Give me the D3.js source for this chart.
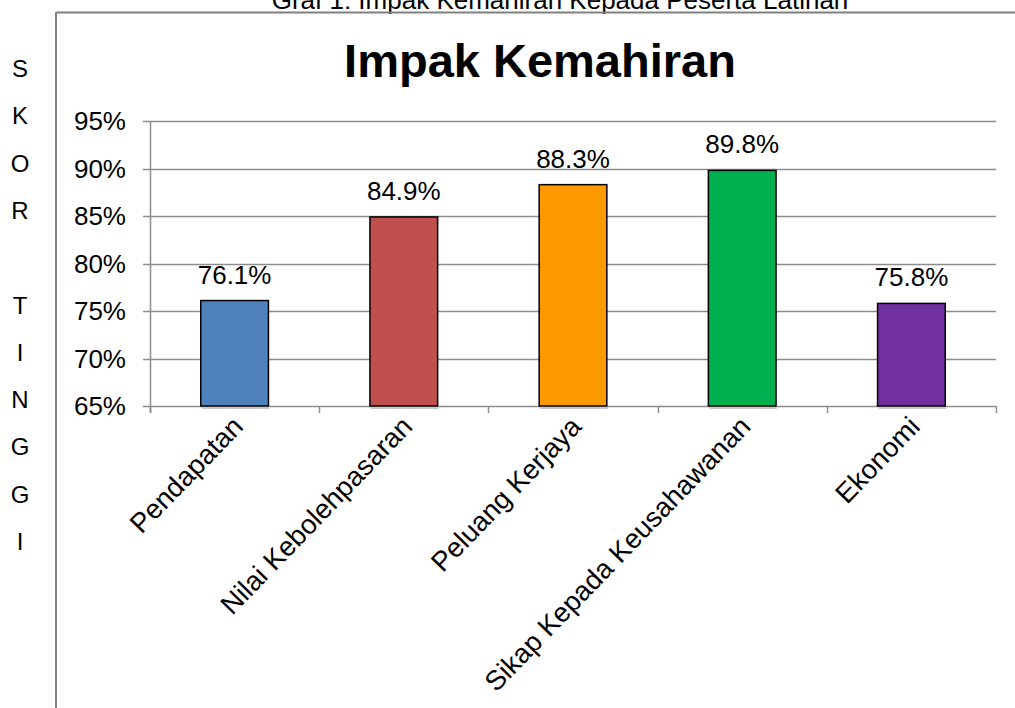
<!DOCTYPE html>
<html>
<head>
<meta charset="utf-8">
<script src="https://cdn.jsdelivr.net/npm/d3@7"></script>
<style>
  body { margin: 0; background: white; }
  text { font-family: "Liberation Sans", Arial, sans-serif; fill: black; }
</style>
</head>
<body>
<div id="canvas"></div>
<script>
// data
const categories = ["Pendapatan", "Nilai Kebolehpasaran", "Peluang Kerjaya", "Sikap Kepada Keusahawanan", "Ekonomi"];
const values = [76.1, 84.9, 88.3, 89.8, 75.8];
const barColours = ["#4F81BD", "#C0504D", "#FF9900", "#00B050", "#7030A0"];
const yTicks = [65, 70, 75, 80, 85, 90, 95];
const sideLetters = ["S", "K", "O", "R", "", "T", "I", "N", "G", "G", "I"];
const pageTitle = "Graf 1: Impak Kemahiran Kepada Peserta Latihan";
const chartTitle = "Impak Kemahiran";

const W = 1015, H = 708;
const plot = {left: 150, right: 996, top: 121, bottom: 406};

const svg = d3.select("#canvas")
    .append("svg")
    .attr("width", W)
    .attr("height", H);

// page title (cut at the top, as in the scan)
svg.append("text")
    .attr("x", 560)
    .attr("y", 9)
    .attr("text-anchor", "middle")
    .style("font-size", "26px")
    .text(pageTitle);

// frame of the chart box
svg.append("line")
    .attr("x1", 55.5).attr("y1", 12.5)
    .attr("x2", W).attr("y2", 12.5)
    .attr("stroke", "#808080").attr("stroke-width", 2);
svg.append("line")
    .attr("x1", 56).attr("y1", 12.5)
    .attr("x2", 56).attr("y2", H)
    .attr("stroke", "#808080").attr("stroke-width", 2);

// vertical side label
svg.selectAll(".side")
    .data(sideLetters)
    .join("text")
    .attr("class", "side")
    .attr("x", 20)
    .attr("y", (d, i) => 77 + i * 47.3)
    .attr("text-anchor", "middle")
    .style("font-size", "24px")
    .text(d => d);

// chart title
svg.append("text")
    .attr("x", 540)
    .attr("y", 77)
    .attr("text-anchor", "middle")
    .style("font-size", "47px")
    .style("font-weight", "bold")
    .text(chartTitle);

// scales
const x = d3.scaleBand()
    .domain(categories)
    .range([plot.left, plot.right])
    .padding(0);

const y = d3.scaleLinear()
    .domain([65, 95])
    .range([plot.bottom, plot.top]);

const g = svg.append("g");

// gridlines + y ticks
g.selectAll(".grid")
    .data(yTicks)
    .join("line")
    .attr("class", "grid")
    .attr("x1", plot.left - 7)
    .attr("x2", plot.right)
    .attr("y1", d => Math.round(y(d)) + 0.5)
    .attr("y2", d => Math.round(y(d)) + 0.5)
    .attr("stroke", "#8c8c8c")
    .attr("stroke-width", 1.5);

g.selectAll(".ylab")
    .data(yTicks)
    .join("text")
    .attr("class", "ylab")
    .attr("x", 126)
    .attr("y", d => y(d))
    .attr("dy", "0.36em")
    .attr("text-anchor", "end")
    .style("font-size", "26px")
    .text(d => d + "%");

// y axis line
g.append("line")
    .attr("x1", plot.left + 0.5).attr("x2", plot.left + 0.5)
    .attr("y1", plot.top).attr("y2", plot.bottom + 7)
    .attr("stroke", "#8c8c8c").attr("stroke-width", 1.5);

// x ticks at band edges
const edges = categories.map(c => x(c)).concat([plot.right]);
g.selectAll(".xtick")
    .data(edges)
    .join("line")
    .attr("class", "xtick")
    .attr("x1", d => Math.round(d) + 0.5)
    .attr("x2", d => Math.round(d) + 0.5)
    .attr("y1", plot.bottom)
    .attr("y2", plot.bottom + 7)
    .attr("stroke", "#8c8c8c")
    .attr("stroke-width", 1.5);

// bars
const barW = x.bandwidth() * 0.4;
const bars = g.selectAll(".bar")
    .data(categories)
    .join("g");

bars.append("rect")
    .attr("x", d => x(d) + (x.bandwidth() - barW) / 2 + 1)
    .attr("y", plot.bottom)
    .attr("width", barW)
    .attr("height", 3)
    .attr("fill", "#c8c8c8");

bars.append("rect")
    .attr("x", d => x(d) + (x.bandwidth() - barW) / 2)
    .attr("y", (d, i) => y(values[i]))
    .attr("width", barW)
    .attr("height", (d, i) => plot.bottom - y(values[i]))
    .attr("fill", (d, i) => barColours[i])
    .attr("stroke", "black")
    .attr("stroke-width", 1.5);

bars.append("text")
    .attr("x", d => x(d) + x.bandwidth() / 2)
    .attr("y", (d, i) => y(values[i]) - 17)
    .attr("text-anchor", "middle")
    .style("font-size", "26px")
    .text((d, i) => values[i].toFixed(1) + "%");

// category labels rotated
g.selectAll(".xlab")
    .data(categories)
    .join("text")
    .attr("class", "xlab")
    .attr("text-anchor", "end")
    .attr("transform", d => "translate(" + (x(d) + x.bandwidth() / 2 + 10) + "," + (plot.bottom + 22) + ") rotate(-46)")
    .style("font-size", "27.5px")
    .text(d => d);
</script>
</body>
</html>
